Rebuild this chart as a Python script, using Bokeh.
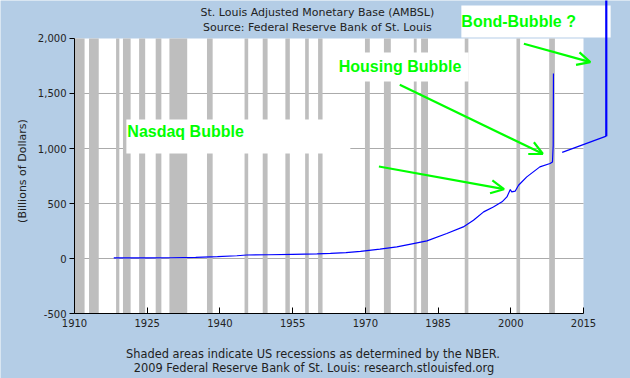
from math import pi
from bokeh.plotting import figure
from bokeh.models import Range1d, FixedTicker, NumeralTickFormatter, Label, Arrow, OpenHead
from bokeh.embed import file_html
from bokeh.resources import INLINE

# ---------------- data ----------------
years = [1918.1, 1925, 1930, 1935, 1939.5, 1943.5, 1945.5, 1950, 1955, 1960, 1962.8,
         1966, 1969, 1973, 1976.5, 1979.9, 1982.7, 1986.8, 1990.2, 1992.3, 1994.4,
         1996.4, 1998.2, 1999.2, 1999.9, 2000.2, 2000.9, 2001.6, 2003.3, 2006.0,
         2008.1, 2008.6, 2008.75, 2008.8]
ambsl = [5, 6, 7, 11, 17, 25, 32, 34, 38, 42, 46,
         54, 64, 85, 106, 136, 160, 227, 287, 348, 424,
         469, 515, 560, 627, 605, 612, 666, 742, 833,
         864, 878, 1030, 1682]

proj_years = [2010.6, 2019.7]
proj_values = [964, 1112]
spike_years = [2019.7, 2019.7]
spike_values = [1112, 2400]

rec_start = [1910.0, 1913.0, 1918.58, 1920.0, 1923.33, 1926.75, 1929.58, 1937.33,
             1945.08, 1948.83, 1953.5, 1957.58, 1960.25, 1969.92, 1973.83, 1980.0,
             1981.5, 1990.5, 2001.17, 2007.92]
rec_end = [1912.08, 1915.0, 1919.25, 1921.58, 1924.58, 1927.92, 1933.25, 1938.5,
           1945.83, 1949.83, 1954.42, 1958.33, 1961.17, 1970.92, 1975.25, 1980.58,
           1982.92, 1991.25, 2001.92, 2009.1]

x_ticks = [1910, 1925, 1940, 1955, 1970, 1985, 2000, 2015]
y_ticks = [-500, 0, 500, 1000, 1500, 2000]

title1 = "St. Louis Adjusted Monetary Base (AMBSL)"
title2 = "Source: Federal Reserve Bank of St. Louis"
note1 = "Shaded areas indicate US recessions as determined by the NBER."
note2 = "2009 Federal Reserve Bank of St. Louis: research.stlouisfed.org"
y_label = "(Billions of Dollars)"

# ---------------- style ----------------
BG = "#B4CDE6"
GREEN = "#00FF00"
TXT = "#222222"
FONT = "DejaVu Sans"
BIG = "Liberation Sans"

# the frame fills the whole canvas; axes are pinned at the plot-area edges
p = figure(width=630, height=378,
           x_range=Range1d(1894.735, 2024.695), y_range=Range1d(-1090.9, 2345.45),
           output_backend="svg", toolbar_location=None,
           min_border_left=0, min_border_right=0, min_border_top=0, min_border_bottom=0)
p.background_fill_color = BG
p.border_fill_color = BG
p.outline_line_color = None
p.xgrid.visible = False
p.ygrid.visible = False

x0, x1 = x_ticks[0], x_ticks[-1]
y0, y1 = y_ticks[0], y_ticks[-1]

# plot area
p.quad(left=[x0], right=[x1], bottom=[y0], top=[y1], fill_color="white", line_color=None)
# grid lines
gy = y_ticks[1:-1]
p.segment(x0=[x0] * len(gy), x1=[x1] * len(gy), y0=gy, y1=gy, line_color="#ABABAB", line_width=1)
# recessions
p.quad(left=rec_start, right=rec_end, bottom=y0, top=y1, fill_color="#BEBEBE", line_color=None)

# white boxes behind comments
p.quad(left=[1920.7, 1962.4, 1989.8], right=[1966.9, 1991.3, 2020.6],
       bottom=[955, 1609, 2009], top=[1264, 1873, 2300],
       fill_color="white", line_color=None)

# series
p.line(years, ambsl, line_color="#0000FF", line_width=1.2)
p.line(proj_years, proj_values, line_color="#0000FF", line_width=1.3)
p.line(spike_years, spike_values, line_color="#0000FF", line_width=2.2)

# axes
for ax in (p.xaxis, p.yaxis):
    ax.axis_line_color = "black"
    ax.major_tick_line_color = "black"
    ax.minor_tick_line_color = None
    ax.major_label_text_font = FONT
    ax.major_label_text_font_size = "10px"
    ax.major_label_text_color = TXT
p.xaxis.fixed_location = y0
p.yaxis.fixed_location = x0
p.xaxis.bounds = (x0, x1)
p.yaxis.bounds = (y0, y1)
p.xaxis.ticker = FixedTicker(ticks=x_ticks)
p.yaxis.ticker = FixedTicker(ticks=y_ticks)
p.yaxis.formatter = NumeralTickFormatter(format="0,0")
p.xaxis.major_tick_in = 6
p.xaxis.major_tick_out = 0
p.yaxis.major_tick_in = 0
p.yaxis.major_tick_out = 5
p.yaxis.major_label_standoff = 3
p.xaxis.major_label_standoff = 5

# texts
def lab(x, y, t, size="11px", color=TXT, font=FONT, align="center", style="normal", angle=0):
    p.add_layout(Label(x=x, y=y, text=t, text_font=font, text_font_size=size,
                       text_color=color, text_align=align, text_baseline="middle",
                       text_font_style=style, angle=angle))

lab(1960.1, 2236, title1)
lab(1960.1, 2100, title2)
lab(1959.2, -864, note1, size="11.4px")
lab(1959.4, -991, note2, size="11.4px")
lab(1899.27, 795, y_label, angle=pi / 2)

lab(1920.9, 1155, "Nasdaq Bubble", size="16px", color=GREEN, font=BIG, align="left", style="bold")
lab(1964.5, 1745, "Housing Bubble", size="16px", color=GREEN, font=BIG, align="left", style="bold")
lab(1989.8, 2155, "Bond-Bubble ?", size="16px", color=GREEN, font=BIG, align="left", style="bold")

# arrows
arrows = [((1972.8, 836), (1998.6, 630)),
          ((1977.1, 1579), (2006.6, 952)),
          ((2002.7, 1952), (2016.4, 1785))]
for (xs, ys), (xe, ye) in arrows:
    p.add_layout(Arrow(end=OpenHead(size=13, line_color=GREEN, line_width=2.2),
                       x_start=xs, y_start=ys, x_end=xe, y_end=ye,
                       line_color=GREEN, line_width=2.2))

open("out.html", "w").write(file_html(p, INLINE))
